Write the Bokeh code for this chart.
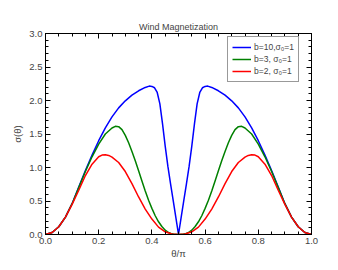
from bokeh.plotting import figure
from bokeh.models import (Range1d, LinearAxis, SingleIntervalTicker, Legend, LegendItem,
                          PrintfTickFormatter, CustomJSTickFormatter)
from bokeh.embed import file_html
from bokeh.resources import INLINE

# theta/pi sample positions and sigma values
x_red = [0.0, 0.025, 0.05, 0.075, 0.1, 0.125, 0.15, 0.175, 0.2, 0.2125, 0.225, 0.2375, 0.25, 0.275,
         0.3, 0.325, 0.35, 0.375, 0.4, 0.425, 0.45, 0.475, 0.5,
         0.525, 0.55, 0.575, 0.6, 0.625, 0.65, 0.675, 0.7, 0.725, 0.75, 0.7625, 0.775, 0.7875,
         0.8, 0.825, 0.85, 0.875, 0.9, 0.925, 0.95, 0.975, 1.0]
y_red = [0.0, 0.03, 0.115, 0.26, 0.45, 0.66, 0.88, 1.05, 1.16, 1.185, 1.19, 1.18, 1.155, 1.075,
         0.94, 0.76, 0.56, 0.38, 0.23, 0.11, 0.04, 0.008, 0.0,
         0.008, 0.04, 0.11, 0.23, 0.38, 0.56, 0.76, 0.94, 1.075, 1.155, 1.18, 1.19, 1.185,
         1.16, 1.05, 0.88, 0.66, 0.45, 0.26, 0.115, 0.03, 0.0]

x_green = [0.0, 0.025, 0.05, 0.075, 0.1, 0.125, 0.15, 0.175, 0.2, 0.225, 0.25, 0.2625,
           0.275, 0.2875, 0.3, 0.3125, 0.325, 0.3375, 0.35, 0.3625, 0.375, 0.3875, 0.4,
           0.4125, 0.425, 0.4375, 0.45, 0.4625, 0.475, 0.4875, 0.5,
           0.5125, 0.525, 0.5375, 0.55, 0.5625, 0.575, 0.5875, 0.6, 0.6125, 0.625, 0.6375,
           0.65, 0.6625, 0.675, 0.6875, 0.7, 0.7125, 0.725, 0.7375, 0.75,
           0.775, 0.8, 0.825, 0.85, 0.875, 0.9, 0.925, 0.95, 0.975, 1.0]
y_green = [0.0, 0.03, 0.115, 0.26, 0.46, 0.70, 0.94, 1.16, 1.35, 1.50, 1.59, 1.615,
           1.61, 1.565, 1.48, 1.37, 1.24, 1.10, 0.95, 0.80, 0.65, 0.51, 0.39,
           0.28, 0.19, 0.12, 0.065, 0.03, 0.01, 0.002, 0.0,
           0.002, 0.01, 0.03, 0.065, 0.12, 0.19, 0.28, 0.39, 0.51, 0.65, 0.80,
           0.95, 1.10, 1.24, 1.37, 1.48, 1.565, 1.61, 1.615, 1.59,
           1.50, 1.35, 1.16, 0.94, 0.70, 0.46, 0.26, 0.115, 0.03, 0.0]

x_blue = [0.0, 0.025, 0.05, 0.075, 0.1, 0.125, 0.15, 0.175, 0.2, 0.225, 0.25, 0.275,
          0.3, 0.325, 0.35, 0.375, 0.39, 0.4, 0.41, 0.42, 0.43, 0.44, 0.45, 0.46,
          0.47, 0.48, 0.49, 0.5,
          0.51, 0.52, 0.53, 0.54, 0.55, 0.56, 0.57, 0.58, 0.59, 0.6, 0.61, 0.625,
          0.65, 0.675, 0.7, 0.725, 0.75, 0.775, 0.8, 0.825, 0.85, 0.875, 0.9, 0.925,
          0.95, 0.975, 1.0]
y_blue = [0.0, 0.03, 0.115, 0.26, 0.46, 0.71, 0.955, 1.185, 1.40, 1.59, 1.755, 1.89,
          1.995, 2.08, 2.145, 2.195, 2.215, 2.21, 2.19, 2.12, 1.95, 1.65, 1.32, 1.02,
          0.76, 0.51, 0.255, 0.0,
          0.255, 0.51, 0.76, 1.02, 1.32, 1.65, 1.95, 2.12, 2.19, 2.21, 2.215, 2.195,
          2.145, 2.08, 1.995, 1.89, 1.755, 1.59, 1.40, 1.185, 0.955, 0.71, 0.46, 0.26,
          0.115, 0.03, 0.0]

labels = ["b=10,σ₀=1", "b=3, σ₀=1", "b=2, σ₀=1"]
colors = ["#0000ff", "#008000", "#ff0000"]

FONT = "Liberation Sans"

p = figure(width=330, height=262, output_backend="svg", toolbar_location=None,
           x_range=Range1d(0, 1), y_range=Range1d(0, 3),
           min_border_left=45, min_border_right=19, min_border_top=33, min_border_bottom=28,
           x_axis_type=None, y_axis_type=None)
p.outline_line_color = "black"
p.outline_line_width = 1
p.xgrid.visible = False
p.ygrid.visible = False
p.title.text = "Wind Magnetization"
p.title.align = "center"
p.title.text_font = FONT
p.title.text_font_size = "9px"
p.title.text_font_style = "normal"
p.title.standoff = 4

blank = CustomJSTickFormatter(code="return '';")


def style_axis(ax, show_labels=True):
    ax.major_tick_in = 5
    ax.major_tick_out = 0
    ax.minor_tick_in = 3
    ax.minor_tick_out = 0
    ax.axis_line_color = "black"
    ax.axis_line_width = 1
    ax.major_tick_line_color = "black"
    ax.major_tick_line_width = 1
    ax.minor_tick_line_color = "black"
    ax.minor_tick_line_width = 1
    ax.major_label_text_font = FONT
    ax.major_label_text_font_size = "9.5px"
    ax.major_label_standoff = 3 if show_labels else 0
    ax.axis_label_text_font = FONT
    ax.axis_label_text_font_size = "9.5px"
    ax.axis_label_text_font_style = "normal"
    ax.axis_label_standoff = 1
    ax.formatter = PrintfTickFormatter(format="%.1f") if show_labels else blank


xb = LinearAxis(ticker=SingleIntervalTicker(interval=0.2, num_minor_ticks=4), axis_label="θ/π")
style_axis(xb)
p.add_layout(xb, "below")
xa = LinearAxis(ticker=SingleIntervalTicker(interval=0.2, num_minor_ticks=4))
style_axis(xa, False)
p.add_layout(xa, "above")
yl = LinearAxis(ticker=SingleIntervalTicker(interval=0.5, num_minor_ticks=5), axis_label="σ(θ)")
style_axis(yl)
yl.axis_label_standoff = 3
p.add_layout(yl, "left")
yr = LinearAxis(ticker=SingleIntervalTicker(interval=0.5, num_minor_ticks=5))
style_axis(yr, False)
p.add_layout(yr, "right")

r_blue = p.line(x_blue, y_blue, line_color=colors[0], line_width=1.5)
r_green = p.line(x_green, y_green, line_color=colors[1], line_width=1.5)
r_red = p.line(x_red, y_red, line_color=colors[2], line_width=1.5)

legend = Legend(items=[LegendItem(label=labels[0], renderers=[r_blue]),
                       LegendItem(label=labels[1], renderers=[r_green]),
                       LegendItem(label=labels[2], renderers=[r_red])],
                location=(182, 152))
legend.label_text_font = FONT
legend.label_text_font_size = "8.5px"
legend.label_height = 12
legend.glyph_height = 12
legend.glyph_width = 19
legend.label_standoff = 3
legend.padding = 4
legend.spacing = 0
legend.margin = 0
legend.border_line_color = "#333333"
legend.border_line_width = 1
legend.background_fill_alpha = 1
p.add_layout(legend, "center")

open("out.html", "w").write(file_html(p, INLINE))
